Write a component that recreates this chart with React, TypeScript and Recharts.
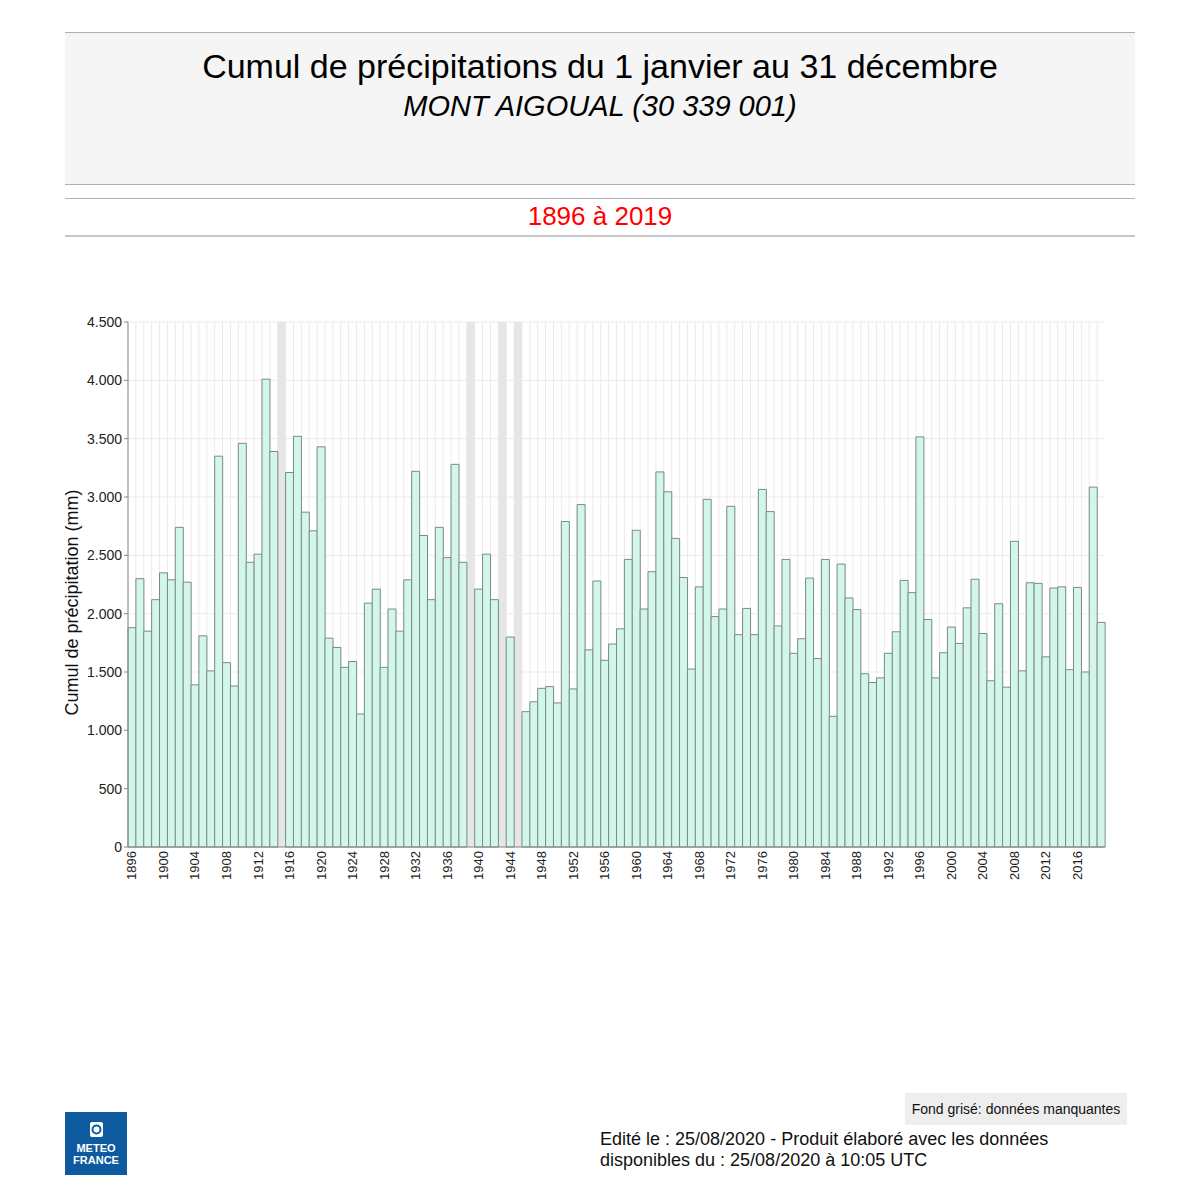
import { BarChart, Bar, XAxis, YAxis, CartesianGrid, ReferenceArea, Label } from 'recharts';

// années 1896 -> 2019
const years = [
  '1896', '1897', '1898', '1899', '1900', '1901', '1902', '1903', '1904', '1905',
  '1906', '1907', '1908', '1909', '1910', '1911', '1912', '1913', '1914', '1915',
  '1916', '1917', '1918', '1919', '1920', '1921', '1922', '1923', '1924', '1925',
  '1926', '1927', '1928', '1929', '1930', '1931', '1932', '1933', '1934', '1935',
  '1936', '1937', '1938', '1939', '1940', '1941', '1942', '1943', '1944', '1945',
  '1946', '1947', '1948', '1949', '1950', '1951', '1952', '1953', '1954', '1955',
  '1956', '1957', '1958', '1959', '1960', '1961', '1962', '1963', '1964', '1965',
  '1966', '1967', '1968', '1969', '1970', '1971', '1972', '1973', '1974', '1975',
  '1976', '1977', '1978', '1979', '1980', '1981', '1982', '1983', '1984', '1985',
  '1986', '1987', '1988', '1989', '1990', '1991', '1992', '1993', '1994', '1995',
  '1996', '1997', '1998', '1999', '2000', '2001', '2002', '2003', '2004', '2005',
  '2006', '2007', '2008', '2009', '2010', '2011', '2012', '2013', '2014', '2015',
  '2016', '2017', '2018', '2019',
];

// cumul annuel (mm), null = données manquantes
const rain: (number | null)[] = [
  1880, 2300, 1850, 2120, 2350, 2290, 2740, 2270, 1390, 1810,
  1510, 3350, 1580, 1380, 3460, 2440, 2510, 4010, 3390, null,
  3210, 3520, 2870, 2710, 3430, 1790, 1710, 1540, 1590, 1140,
  2090, 2210, 1540, 2040, 1850, 2290, 3220, 2670, 2120, 2740,
  2480, 3280, 2440, null, 2210, 2510, 2120, null, 1800, null,
  1160, 1245, 1360, 1375, 1235, 2790, 1355, 2935, 1690, 2280,
  1600, 1740, 1870, 2465, 2715, 2040, 2360, 3215, 3045, 2645,
  2310, 1525, 2230, 2980, 1975, 2040, 2920, 1820, 2045, 1820,
  3065, 2875, 1895, 2465, 1660, 1785, 2305, 1615, 2465, 1120,
  2425, 2135, 2035, 1485, 1410, 1450, 1660, 1845, 2285, 2180,
  3515, 1950, 1450, 1665, 1885, 1745, 2050, 2295, 1830, 1425,
  2085, 1370, 2620, 1510, 2265, 2260, 1630, 2220, 2230, 1520,
  2225, 1500, 3085, 1925,
];

const missingYears = ['1915', '1939', '1943', '1945'];
const yTicks = [0, 500, 1000, 1500, 2000, 2500, 3000, 3500, 4000, 4500];

const data = years.map((year, i) => ({ year, rain: rain[i] }));

const FONT = '"Liberation Sans", Arial, sans-serif';

const fmt = (v: number) =>
  v >= 1000 ? `${Math.floor(v / 1000)}.${String(v % 1000).padStart(3, '0')}` : String(v);

function YearTick({ x, y, payload }: any) {
  return (
    <text
      x={x}
      y={y}
      transform={`rotate(-90, ${x}, ${y})`}
      textAnchor="end"
      dominantBaseline="central"
      fontSize={13}
      fill="#222"
      fontFamily={FONT}
    >
      {payload.value}
    </text>
  );
}

function YTitle({ viewBox }: any) {
  const x = viewBox.x + 44;
  const y = viewBox.y + viewBox.height / 2 + 18;
  return (
    <text
      x={x}
      y={y}
      transform={`rotate(-90, ${x}, ${y})`}
      textAnchor="middle"
      dominantBaseline="central"
      fontSize={18}
      fill="#111"
      fontFamily={FONT}
    >
      Cumul de précipitation (mm)
    </text>
  );
}

function bandLines({ xAxis, offset }: any) {
  // lignes verticales aux limites de chaque année
  if (xAxis && xAxis.scale && typeof xAxis.scale === 'function') {
    const starts = years.map(y => xAxis.scale(y) as number);
    const bw = xAxis.scale.bandwidth ? xAxis.scale.bandwidth() : offset.width / years.length;
    return [...starts, starts[starts.length - 1] + bw];
  }
  return years.map((_, i) => offset.left + (i * offset.width) / years.length);
}

function Logo() {
  return (
    <div
      style={{
        position: 'absolute', left: 65, top: 1112, width: 62, height: 63,
        background: '#0d5a9e', color: '#fff', fontFamily: FONT, textAlign: 'center',
      }}
    >
      <svg width={13} height={15} style={{ position: 'absolute', left: 25, top: 10 }}>
        <rect x={0} y={0} width={13} height={15} rx={2} fill="#fff" />
        <circle cx={6.5} cy={7.5} r={4} fill="none" stroke="#0d5a9e" strokeWidth={2} />
      </svg>
      <div style={{ position: 'absolute', left: 0, width: 62, top: 30, fontSize: 11, fontWeight: 'bold', lineHeight: '12px' }}>
        METEO
        <br />
        FRANCE
      </div>
    </div>
  );
}

export default function App() {
  return (
    <div style={{ position: 'absolute', left: 0, top: 0, width: 1200, height: 1200, background: '#fff', fontFamily: FONT }}>
      {/* bandeau titre */}
      <div style={{ position: 'absolute', left: 65, top: 32, width: 1070, height: 151, background: '#f5f5f5', borderTop: '1px solid #b0b0b0', borderBottom: '1px solid #b0b0b0' }} />
      <div style={{ position: 'absolute', left: 65, width: 1070, top: 46, height: 40, lineHeight: '40px', fontSize: 34, textAlign: 'center', color: '#000' }}>
        Cumul de précipitations du 1 janvier au 31 décembre
      </div>
      <div style={{ position: 'absolute', left: 65, width: 1070, top: 88, height: 36, lineHeight: '36px', fontSize: 29, fontStyle: 'italic', textAlign: 'center', color: '#000' }}>
        MONT AIGOUAL (30 339 001)
      </div>
      <div style={{ position: 'absolute', left: 65, top: 198, width: 1070, height: 36, borderTop: '1px solid #b0b0b0', borderBottom: '2px solid #c8c8c8' }} />
      <div style={{ position: 'absolute', left: 65, width: 1070, top: 198, height: 36, lineHeight: '36px', fontSize: 26, textAlign: 'center', color: '#ff0000' }}>
        1896 à 2019
      </div>

      <div style={{ position: 'absolute', left: 0, top: 0 }}>
        <BarChart
          width={1200}
          height={900}
          data={data}
          margin={{ top: 322, right: 95, left: 28, bottom: 3 }}
          barCategoryGap={0}
        >
          <CartesianGrid
            stroke="#ebebeb"
            horizontal
            vertical
            verticalCoordinatesGenerator={bandLines}
          />
          {missingYears.map(y => (
            <ReferenceArea key={y} x1={y} x2={y} y1={0} y2={4500} fill="#e6e6e6" fillOpacity={1} stroke="none" />
          ))}
          <XAxis
            dataKey="year"
            interval={3}
            height={50}
            tickLine={false}
            tickSize={2}
            tickMargin={2}
            axisLine={{ stroke: '#888' }}
            tick={<YearTick />}
          />
          <YAxis
            width={100}
            domain={[0, 4500]}
            ticks={yTicks}
            tickFormatter={fmt}
            tickSize={4}
            tickMargin={2}
            tick={{ fontSize: 14, fill: '#222', fontFamily: FONT }}
            tickLine={{ stroke: '#888' }}
            axisLine={{ stroke: '#888' }}
          >
            <Label content={<YTitle />} />
          </YAxis>
          <Bar dataKey="rain" fill="#d3f6ea" stroke="#7b8a85" strokeWidth={1} isAnimationActive={false} />
          <ReferenceArea x1="1896" x2="2019" y1={0} y2={4500} fill="none" stroke="#888" strokeWidth={1} />
        </BarChart>
      </div>

      {/* légende données manquantes */}
      <div style={{ position: 'absolute', left: 905, top: 1093, width: 222, height: 32, background: '#eeeeee', fontSize: 14, lineHeight: '32px', textAlign: 'center', color: '#111' }}>
        Fond grisé: données manquantes
      </div>

      <Logo />

      <div style={{ position: 'absolute', left: 600, top: 1129, fontSize: 18, lineHeight: '21px', color: '#111' }}>
        Edité le : 25/08/2020 - Produit élaboré avec les données
        <br />
        disponibles du : 25/08/2020 à 10:05 UTC
      </div>
    </div>
  );
}
